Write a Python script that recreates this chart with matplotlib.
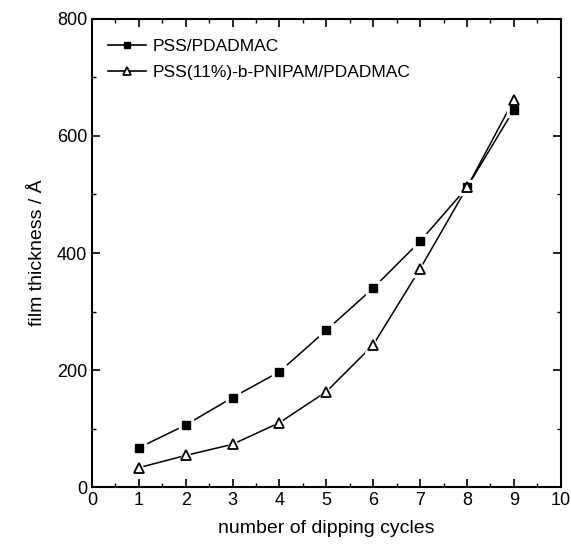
import matplotlib
matplotlib.use("Agg")
import matplotlib.pyplot as plt
from matplotlib.ticker import MultipleLocator

plt.rcParams['font.family'] = ['Liberation Sans', 'DejaVu Sans']

cycles = [1, 2, 3, 4, 5, 6, 7, 8, 9]
pss_pdadmac = [67, 106, 153, 197, 268, 340, 420, 512, 645]
pss_block = [33, 54, 73, 110, 163, 243, 373, 512, 662]
labels = ["PSS/PDADMAC", "PSS(11%)-b-PNIPAM/PDADMAC"]

fig = plt.figure(figsize=(5.71, 5.5), dpi=100)
ax = fig.add_axes([0.161, 0.1145, 0.821, 0.851])

# lines
ax.plot(cycles, pss_pdadmac, color='black', lw=1.1, zorder=2)
ax.plot(cycles, pss_block, color='black', lw=1.1, zorder=2)
# white halos for gaps
ax.plot(cycles, pss_pdadmac, ls='none', marker='s', ms=10, color='white', mec='white', zorder=3)
ax.plot(cycles, pss_block, ls='none', marker='^', ms=12, color='white', mec='white', zorder=3)
# markers
ax.plot(cycles, pss_pdadmac, ls='none', marker='s', ms=5.5, color='black', zorder=4)
ax.plot(cycles, pss_block, ls='none', marker='^', ms=7.5, mfc='white', mec='black', mew=1.3, zorder=4)

# legend proxies
h1, = ax.plot([], [], color='black', lw=1.2, marker='s', ms=4.5)
h2, = ax.plot([], [], color='black', lw=1.2, marker='^', ms=6, mfc='white', mew=1.3)
ax.legend([h1, h2], labels, loc='upper left', frameon=False, fontsize=12.5,
          handlelength=2.2, handletextpad=0.4, labelspacing=0.6,
          bbox_to_anchor=(0.0, 0.99))

ax.set_xlim(0, 10)
ax.set_ylim(0, 800)
ax.xaxis.set_major_locator(MultipleLocator(1))
ax.xaxis.set_minor_locator(MultipleLocator(0.5))
ax.yaxis.set_major_locator(MultipleLocator(200))
ax.yaxis.set_minor_locator(MultipleLocator(100))
ax.tick_params(which='both', direction='in', top=True, right=True, labelsize=13)
ax.tick_params(which='major', length=6, width=1.2)
ax.tick_params(which='minor', length=3, width=1.0)
for s in ax.spines.values():
    s.set_linewidth(1.5)

ax.set_xlabel("number of dipping cycles", fontsize=14, labelpad=8)
ax.set_ylabel("film thickness / Å", fontsize=14, labelpad=8)

fig.savefig("out.png", dpi=100)
